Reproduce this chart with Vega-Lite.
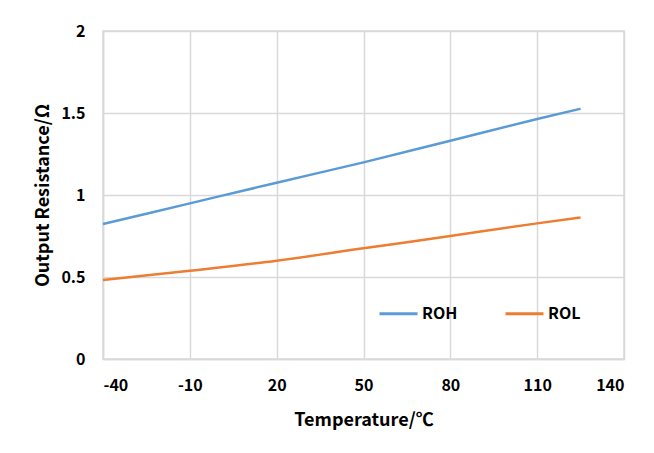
{
  "$schema": "https://vega.github.io/schema/vega-lite/v6.json",
  "width": 521,
  "height": 328,
  "autosize": {"type": "none"},
  "padding": {"left": 103, "top": 31, "right": 30, "bottom": 94},
  "background": "white",
  "data": {
    "values": [
      {"t": -40, "r": 0.823, "s": "ROH"},
      {"t": -10, "r": 0.949, "s": "ROH"},
      {"t": 20, "r": 1.075, "s": "ROH"},
      {"t": 50, "r": 1.199, "s": "ROH"},
      {"t": 80, "r": 1.331, "s": "ROH"},
      {"t": 110, "r": 1.463, "s": "ROH"},
      {"t": 125, "r": 1.526, "s": "ROH"},
      {"t": -40, "r": 0.482, "s": "ROL"},
      {"t": -10, "r": 0.538, "s": "ROL"},
      {"t": 20, "r": 0.599, "s": "ROL"},
      {"t": 50, "r": 0.675, "s": "ROL"},
      {"t": 80, "r": 0.75, "s": "ROL"},
      {"t": 110, "r": 0.827, "s": "ROL"},
      {"t": 125, "r": 0.863, "s": "ROL"}
    ]
  },
  "mark": {"type": "line", "strokeWidth": 2.5, "interpolate": "monotone"},
  "encoding": {
    "x": {
      "field": "t", "type": "quantitative",
      "scale": {"domain": [-40, 140], "nice": false, "zero": false},
      "axis": {"values": [-40, -10, 20, 50, 80, 110, 140], "labelExpr": "'' + datum.value", "title": "Temperature/℃", "titlePadding": 18}
    },
    "y": {
      "field": "r", "type": "quantitative",
      "scale": {"domain": [0, 2], "nice": false},
      "axis": {"values": [0, 0.5, 1, 1.5, 2], "labelExpr": "'' + datum.value", "title": "Output Resistance/Ω", "titlePadding": 8}
    },
    "color": {
      "field": "s", "type": "nominal",
      "scale": {"domain": ["ROH", "ROL"], "range": ["#5B9BD5", "#ED7D31"]},
      "legend": {
        "title": null, "orient": "none", "legendX": 275, "legendY": 262, "direction": "horizontal",
        "symbolType": "stroke", "symbolSize": 1444, "symbolStrokeWidth": 3,
        "labelFont": "Noto Sans CJK SC", "labelFontWeight": "bold", "labelFontSize": 16, "labelColor": "#000",
        "columnPadding": 41, "labelOffset": 3
      }
    }
  },
  "config": {
    "view": {"stroke": "#d9d9d9", "strokeWidth": 1.5},
    "axis": {
      "labelFont": "Noto Sans CJK SC", "labelFontWeight": "bold", "labelFontSize": 16, "labelColor": "#000",
      "titleFont": "Noto Sans CJK SC", "titleFontWeight": "bold", "titleFontSize": 18, "titleColor": "#000",
      "gridColor": "#d9d9d9", "gridWidth": 1.5, "domainColor": "#d9d9d9", "domainWidth": 1.5,
      "ticks": false, "labelPadding": 18
    }
  }
}
